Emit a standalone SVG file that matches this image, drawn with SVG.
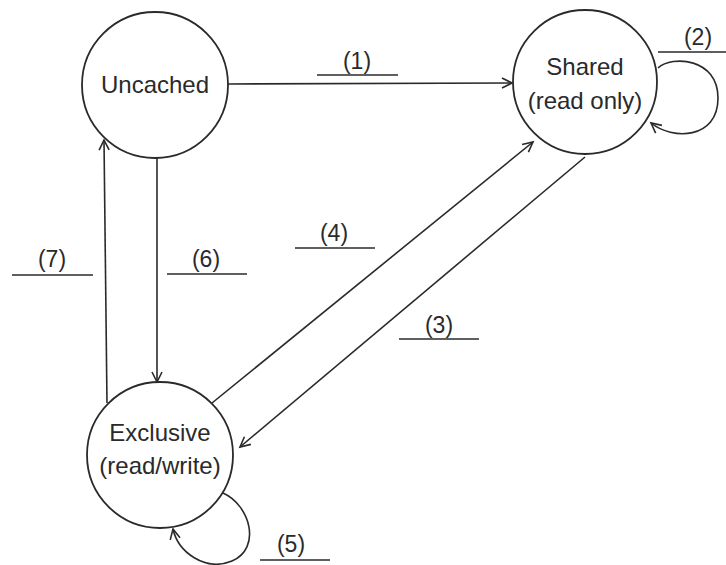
<svg xmlns="http://www.w3.org/2000/svg" width="726" height="565" viewBox="0 0 726 565">
<style>
.node{fill:#fff;stroke:#2a2a2a;stroke-width:1.8}
.nt{font-family:"Liberation Sans",Arial,sans-serif;font-size:24px;fill:#2a2a2a;text-anchor:middle}
.lb{font-family:"Liberation Sans",Arial,sans-serif;font-size:23px;fill:#2a2a2a;text-anchor:middle}
.ul{stroke:#2a2a2a;stroke-width:1.6}
.edge{fill:none;stroke:#2a2a2a;stroke-width:1.6;marker-end:url(#arr)}
</style>
<defs>
<marker id="arr" markerUnits="userSpaceOnUse" markerWidth="14" markerHeight="14" refX="11" refY="6" orient="auto" viewBox="0 0 14 12">
<path d="M1,1 L11,6 L1,11" fill="none" stroke="#2a2a2a" stroke-width="1.6"/>
</marker>
</defs>
<rect width="726" height="565" fill="#fff"/>
<g id="connectors">
<path class="edge" d="M228 84 L512 83"/>
<path class="edge" d="M658 68 C672 55 718 58 718 98 C718 140 672 140 651 123"/>
<path class="edge" d="M585 157 L240 447"/>
<path class="edge" d="M212 403 L533 142"/>
<path class="edge" d="M223 493 C250 505 262 548 232 561 C205 572 178 552 173 529"/>
<path class="edge" d="M157 158 L157 382"/>
<path class="edge" d="M107 403 L104 140"/>
</g>
<g id="uncached">
<circle class="node" cx="155" cy="85" r="73"/>
<text class="nt" x="155" y="93">Uncached</text>
</g>
<g id="shared">
<circle class="node" cx="585" cy="82" r="72"/>
<text class="nt" x="585" y="75">Shared</text>
<text class="nt" x="585" y="109">(read only)</text>
</g>
<g id="exclusive">
<circle class="node" cx="160" cy="455" r="73"/>
<text class="nt" x="160" y="441">Exclusive</text>
<text class="nt" x="160" y="474">(read/write)</text>
</g>
<g id="labels">
<text class="lb" x="357" y="69">(1)</text>
<line class="ul" x1="317" y1="75" x2="398" y2="75"/>
<text class="lb" x="698" y="45">(2)</text>
<line class="ul" x1="658" y1="52" x2="726" y2="52"/>
<text class="lb" x="439" y="333">(3)</text>
<line class="ul" x1="399" y1="339" x2="479" y2="339"/>
<text class="lb" x="334" y="241">(4)</text>
<line class="ul" x1="295" y1="248" x2="375" y2="248"/>
<text class="lb" x="291" y="552">(5)</text>
<line class="ul" x1="260" y1="560" x2="330" y2="560"/>
<text class="lb" x="206" y="267">(6)</text>
<line class="ul" x1="167" y1="274" x2="247" y2="274"/>
<text class="lb" x="52" y="267">(7)</text>
<line class="ul" x1="12" y1="275" x2="93" y2="275"/>
</g>
</svg>
